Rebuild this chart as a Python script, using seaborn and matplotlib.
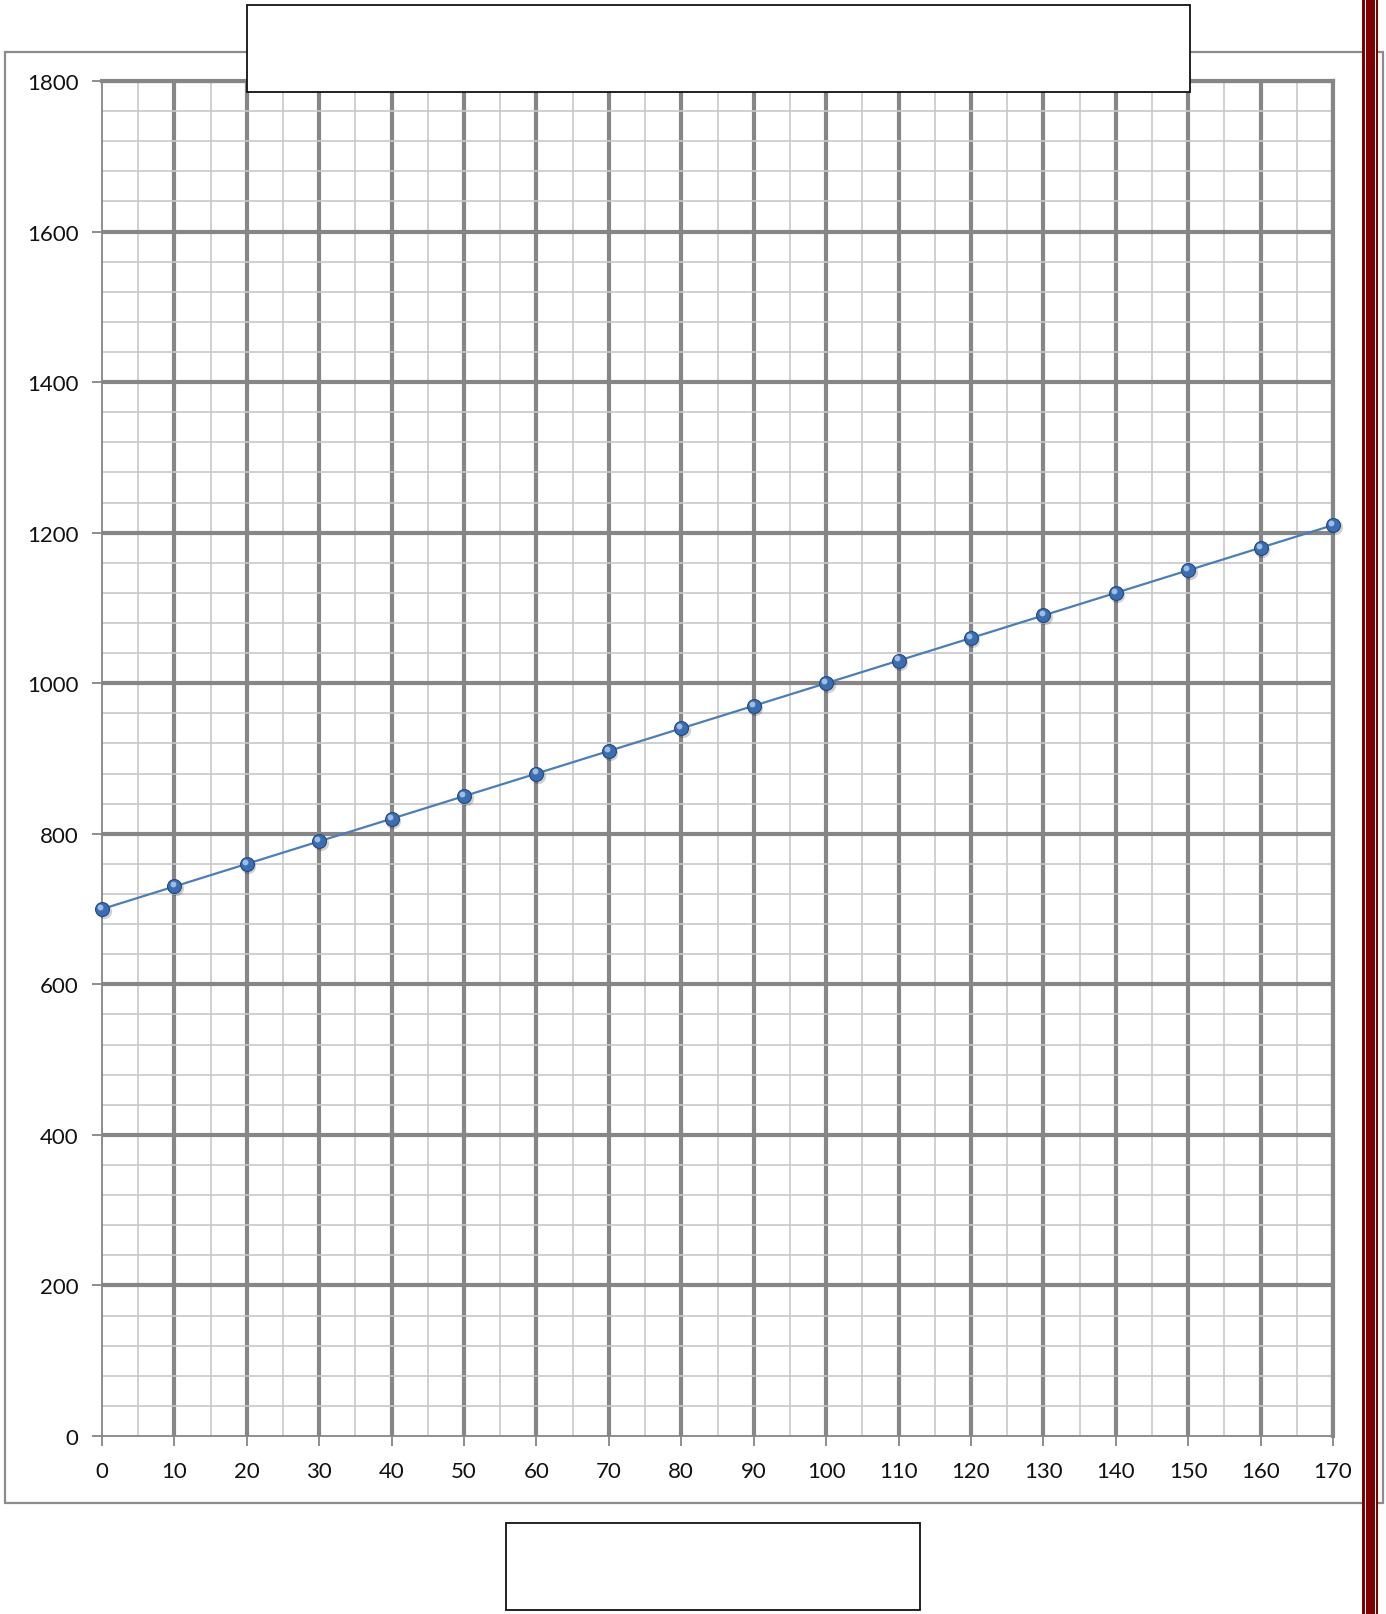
import matplotlib
matplotlib.use("Agg")
import matplotlib.pyplot as plt
import matplotlib.transforms as mtransforms
from matplotlib.patches import Rectangle
import numpy as np
import pandas as pd
import seaborn as sns

# Series values
x_values = [0, 10, 20, 30, 40, 50, 60, 70, 80, 90, 100, 110, 120, 130, 140, 150, 160, 170]
y_values = [700, 730, 760, 790, 820, 850, 880, 910, 940, 970, 1000, 1030, 1060, 1090,
            1120, 1150, 1180, 1210]

# Axis ticks
x_major = list(range(0, 171, 10))
x_minor = list(range(0, 171, 5))
y_major = list(range(0, 1801, 200))
y_minor = list(range(0, 1801, 40))

sns.set_style("white")
plt.rcParams["font.family"] = ["Lato", "DejaVu Sans"]

W, H = 1386, 1615
fig = plt.figure(figsize=(W / 100, H / 100), dpi=100)
fig.patch.set_facecolor("white")


def px_box(x0, y0, x1, y1):
    """Convert a pixel box (top-left origin) into figure fractions."""
    return (x0 / W, 1 - y1 / H, (x1 - x0) / W, (y1 - y0) / H)


ax = fig.add_axes(px_box(102, 82, 1333, 1437))

df = pd.DataFrame({"x": x_values, "y": y_values})

MAJOR = "#868686"
MINOR = "#c8c8c8"

# Soft drop shadow behind each marker
shadow = mtransforms.offset_copy(ax.transData, fig=fig, x=1.5, y=-2.0, units="dots")
ax.plot(df["x"], df["y"], "o", ms=11, color="#000000", alpha=0.18, mec="none",
        transform=shadow, zorder=3, clip_on=False)

sns.lineplot(data=df, x="x", y="y", ax=ax, color="#4a7ebb", lw=1.6, marker="o",
             markersize=10, markerfacecolor="#3a6db2", markeredgecolor="#24497c",
             markeredgewidth=0.8, zorder=4, clip_on=False)

# Highlight for a glossy sphere look
hl = mtransforms.offset_copy(ax.transData, fig=fig, x=-1.8, y=2.2, units="dots")
ax.plot(df["x"], df["y"], "o", ms=4.2, color="#a9c6ec", alpha=0.9, mec="none",
        transform=hl, zorder=5, clip_on=False)

ax.set_xlim(0, 170)
ax.set_ylim(0, 1800)
ax.set_xticks(x_major)
ax.set_xticks(x_minor, minor=True)
ax.set_yticks(y_major)
ax.set_yticks(y_minor, minor=True)
ax.set_xlabel("")
ax.set_ylabel("")

ax.grid(which="minor", color=MINOR, lw=1.2, zorder=0)
ax.grid(which="major", color=MAJOR, lw=3.0, zorder=0.5)
ax.set_axisbelow(True)
# The gridlines that sit on the axes themselves are drawn by the spines
ax.xaxis.get_gridlines()[0].set_visible(False)
ax.yaxis.get_gridlines()[0].set_visible(False)

for side in ("left", "bottom"):
    ax.spines[side].set_color(MAJOR)
    ax.spines[side].set_linewidth(1.3)
    ax.spines[side].set_visible(True)
for side in ("top", "right"):
    ax.spines[side].set_color(MAJOR)
    ax.spines[side].set_linewidth(3.0)
    ax.spines[side].set_visible(True)

ax.tick_params(axis="both", which="major", direction="out", length=7, width=1.3,
               color=MAJOR, labelsize=16, labelcolor="#111111")
ax.tick_params(axis="y", which="major", pad=10)
ax.tick_params(axis="x", which="major", pad=11)
ax.tick_params(axis="both", which="minor", length=0)
ax.tick_params(left=True, bottom=True)

# Outer chart frame
ob = px_box(5, 53, 1383, 1504)
fig.add_artist(Rectangle(ob[:2], ob[2], ob[3], transform=fig.transFigure,
                         fill=False, ec="#8c8c8c", lw=1.6, zorder=-1))

# Empty title and axis-label boxes
for box in (px_box(247, 6, 1190, 93), px_box(506, 1524, 920, 1611)):
    fig.add_artist(Rectangle(box[:2], box[2], box[3], transform=fig.transFigure,
                             fc="white", ec="#111111", lw=1.3, zorder=10))

# Decorative page border on the right
rb = px_box(1362, -2, 1377.5, H + 2)
fig.add_artist(Rectangle(rb[:2], rb[2], rb[3], transform=fig.transFigure,
                         fc="#7f0000", ec="none", zorder=11))
for xl in (1364.6, 1374.6):
    wb = px_box(xl, -2, xl + 1.0, H + 2)
    fig.add_artist(Rectangle(wb[:2], wb[2], wb[3], transform=fig.transFigure,
                             fc="white", ec="none", zorder=12))

fig.savefig("out.png", dpi=100, facecolor="white")
